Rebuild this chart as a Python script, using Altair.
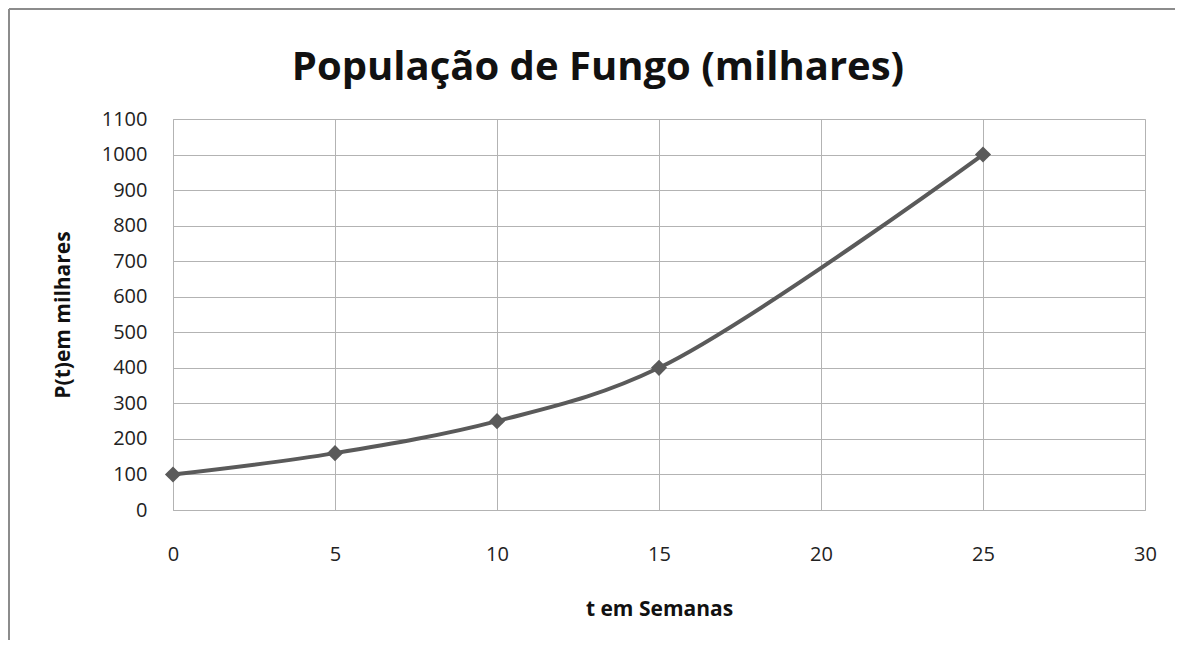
import altair as alt
import pandas as pd

semanas = [0, 5, 10, 15, 25]
populacao = [100, 160, 250, 400, 1000]

df = pd.DataFrame({"t": semanas, "P": populacao})

FONT = "Open Sans"
GRID = "#b3b3b3"
LINE = "#5a5a5a"

base = alt.Chart(df).encode(
    x=alt.X("t:Q", scale=alt.Scale(domain=[0, 30], nice=False),
            axis=alt.Axis(title="t em Semanas", values=[0, 5, 10, 15, 20, 25, 30],
                          format="d", grid=True, gridColor=GRID, domainColor=GRID,
                          ticks=False, labelFlush=False, labelPadding=34, titlePadding=34,
                          labelFontSize=20, labelColor="#222222", titleFontSize=21,
                          titleFontWeight="bold", titleColor="#111111",
                          labelFont=FONT, titleFont=FONT)),
    y=alt.Y("P:Q", scale=alt.Scale(domain=[0, 1100], nice=False),
            axis=alt.Axis(title="P(t)em milhares", values=list(range(0, 1101, 100)),
                          format="d", grid=True, gridColor=GRID, domainColor=GRID,
                          ticks=False, labelFlush=False, labelPadding=26, titlePadding=28,
                          labelFontSize=20, labelColor="#222222", titleFontSize=21,
                          titleFontWeight="bold", titleColor="#111111",
                          labelFont=FONT, titleFont=FONT)),
)

line = base.mark_line(interpolate="catmull-rom", color=LINE, strokeWidth=4)
pts = base.mark_point(shape="diamond", filled=True, size=260, color=LINE, opacity=1)

# outer frame of the chart
frame_left = alt.Chart(df).mark_rule(color="#8c8c8c", strokeWidth=2).encode(
    x=alt.value(-164), y=alt.value(-110), y2=alt.value(560))
frame_top = alt.Chart(df).mark_rule(color="#8c8c8c", strokeWidth=2).encode(
    x=alt.value(-164), x2=alt.value(1040), y=alt.value(-110))

chart = alt.layer(frame_left, frame_top, line, pts).properties(
    width=972, height=391,
    title=alt.TitleParams("População de Fungo (milhares)", fontSize=40, font=FONT,
                          fontWeight="bold", color="#111111", anchor="middle",
                          offset=-80, dx=-61, frame="group"),
    autosize=alt.AutoSizeParams(type="none"),
    padding={"left": 165, "top": 111, "right": 30, "bottom": 130},
).configure_view(stroke=GRID, strokeWidth=1).configure(background="white")

chart.save("out.html", embed_options={"renderer": "svg", "actions": False})
